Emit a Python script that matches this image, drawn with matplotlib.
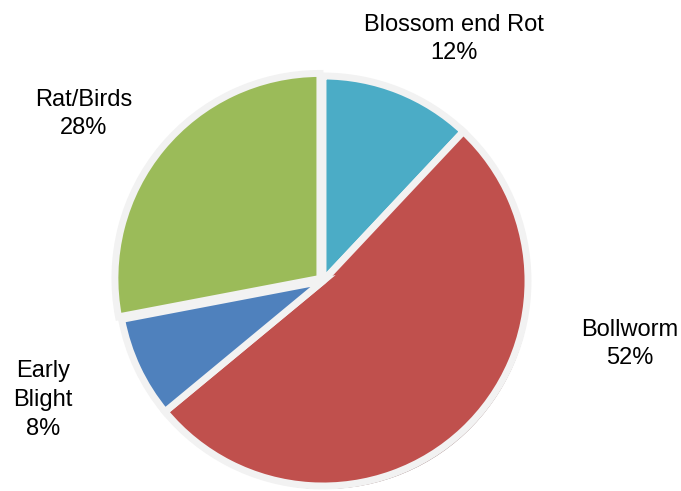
import matplotlib.pyplot as plt

# pest damage shares
labels = ["Blossom end Rot", "Bollworm", "Early\nBlight", "Rat/Birds"]
shares = [12, 52, 8, 28]
colors = ["#4BACC6", "#C0504D", "#4F81BD", "#9BBB59"]
explode = [0, 0, 0, 4]

# label text positions (pixels from top-left)
label_pos = [(454, 39), (630, 344), (43, 400), (84, 114)]

plt.rcParams['font.family'] = ['Liberation Sans', 'DejaVu Sans']

fig = plt.figure(figsize=(6.81, 4.91), dpi=100)
ax = fig.add_axes([0, 0, 1, 1])

cx, cy, r = 323, 281, 205

# faint shadow rim behind the pie
ax.pie(shares, startangle=90, counterclock=False, center=(cx + 2, 491 - cy - 3),
       radius=r, colors=["#8C6A6A"] * 4, explode=explode,
       wedgeprops=dict(linewidth=0), frame=True)
ax.pie(shares, startangle=90, counterclock=False, center=(cx, 491 - cy),
       radius=r, colors=colors, explode=explode,
       wedgeprops=dict(edgecolor="#F2F2F2", linewidth=5, joinstyle="miter"),
       frame=True)
ax.set_xlim(0, 681)
ax.set_ylim(0, 491)
ax.set_aspect("equal")
ax.axis("off")

for lab, val, (x, y) in zip(labels, shares, label_pos):
    ax.text(x, 491 - y, f"{lab}\n{val}%", ha="center", va="center",
            fontsize=17, color="black", linespacing=1.4)

fig.savefig("out.png", dpi=100)
